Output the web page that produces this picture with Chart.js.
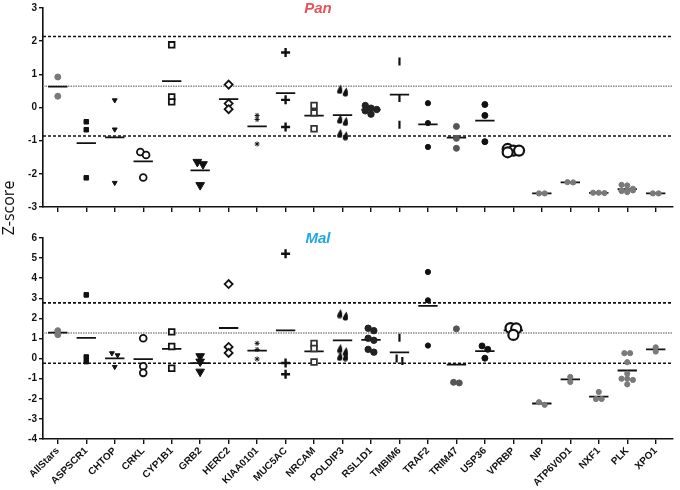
<!DOCTYPE html>
<html>
<head>
<meta charset="utf-8">
<script src="https://cdn.jsdelivr.net/npm/chart.js@4.4.1/dist/chart.umd.min.js"></script>
<style>
  body { margin: 0; background: #fff; }
  #wrap { position: relative; width: 680px; height: 490px; overflow: hidden; }
  canvas { position: absolute; left: 0; }
  #ylab { position: absolute; left: -22px; top: 197px; width: 60px; text-align: center;
          font: 16px "Open Sans", sans-serif; transform: rotate(-90deg); color: #111; }
</style>
</head>
<body>
<div id="wrap">
  <canvas id="pan" width="680" height="222" style="top:0"></canvas>
  <canvas id="mal" width="680" height="275" style="top:215px"></canvas>
  <div id="ylab">Z-score</div>
</div>
<script>
// categories along the x axis
const categories = ['AllStars', 'ASPSCR1', 'CHTOP', 'CRKL', 'CYP1B1', 'GRB2', 'HERC2', 'KIAA0101', 'MUC5AC', 'NRCAM',
  'POLDIP3', 'RSL1D1', 'TMBIM6', 'TRAF2', 'TRIM47', 'USP36', 'VPRBP', 'NP', 'ATP6V0D1', 'NXF1', 'PLK', 'XPO1'];

// Z-scores, Pan screen
const panValues = [
  [0.92, 0.34],
  [-0.43, -0.67, -2.12],
  [0.22, -0.66, -2.27],
  [-1.34, -1.43, -2.11],
  [1.89, 0.32, 0.17],
  [-1.64, -1.71, -2.34],
  [0.69, 0.12, -0.05],
  [-0.24, -0.36, -1.10],
  [1.66, 0.23, -0.59],
  [0.06, -0.16, -0.64],
  [0.55, 0.47, -0.35, -0.42, -0.78, -0.85],
  [0.06, -0.02, -0.20, -0.06, -0.10],
  [1.39, 0.29, -0.52],
  [0.13, -0.47, -1.19],
  [-0.57, -0.93, -1.23],
  [0.09, -0.24, -1.03],
  [-1.25, -1.30, -1.35, -1.30],
  [-2.59, -2.59],
  [-2.26, -2.25],
  [-2.57, -2.57, -2.58],
  [-2.33, -2.35, -2.45, -2.50, -2.50, -2.52, -2.55, -2.50],
  [-2.59, -2.59]
];
const panRefs = [2.14, 0.64, -0.86];

// Z-scores, Mal screen
const malValues = [
  [1.19, 1.39],
  [3.17, -0.15, 0.08],
  [0.27, 0.17, -0.41],
  [1.01, -0.38, -0.71],
  [1.33, 0.60, -0.48],
  [0.12, -0.15, -0.65],
  [3.71, 0.58, 0.28],
  [0.76, 0.45, -0.02],
  [5.22, -0.22, -0.78],
  [0.75, 0.50, -0.17],
  [2.24, 2.12, 0.50, 0.35, 0.12, 0.10],
  [1.51, 1.39, 1.01, 0.91, 0.46, 0.32],
  [1.04, -0.12, 0.00],
  [4.31, 2.90, 0.65],
  [1.48, -1.21, -1.18],
  [0.63, 0.46, 0.02],
  [1.52, 1.50, 1.18],
  [-2.30, -2.17],
  [-0.91, -1.16],
  [-1.66, -2.01, -2.01],
  [0.27, 0.27, -0.18, -0.75, -1.06, -1.00, -1.00, -1.28],
  [0.56, 0.35]
];
const malRefs = [2.77, 1.27, -0.23];

// little teardrop marker, used for POLDIP3
function dropMarker() {
  const c = document.createElement('canvas');
  c.width = 7; c.height = 10;
  const g = c.getContext('2d');
  g.fillStyle = '#111';
  g.beginPath();
  g.moveTo(4.5, 0.5);
  g.quadraticCurveTo(6.5, 5, 6, 7);
  g.arc(3.5, 7, 2.6, 0, Math.PI);
  g.quadraticCurveTo(2, 4, 4.5, 0.5);
  g.fill();
  return c;
}
const drop = dropMarker();

const GREY = '#7a7a7a';
const markers = [
  { s: 'circle', r: 3, fill: GREY, stroke: GREY },
  { s: 'rect', r: 3.2, fill: '#111', stroke: '#111' },
  { s: 'triangle', r: 2.8, fill: '#111', stroke: '#111', rot: 180 },
  { s: 'circle', r: 3.4, fill: '#fff', stroke: '#111', bw: 1.8 },
  { s: 'rect', r: 4, fill: '#fff', stroke: '#111', bw: 1.8 },
  { s: 'triangle', r: 5, fill: '#111', stroke: '#111', rot: 180 },
  { s: 'rectRot', r: 4, fill: '#fff', stroke: '#111', bw: 1.8 },
  { s: 'star', r: 2.5, fill: '#111', stroke: '#111', bw: 1 },
  { s: 'cross', r: 4.5, fill: '#111', stroke: '#111', bw: 2.4 },
  { s: 'rect', r: 4, fill: '#fff', stroke: '#333', bw: 1.8 },
  { s: drop, r: 4, fill: '#111', stroke: '#111' },
  { s: 'circle', r: 3.2, fill: '#222', stroke: '#222' },
  { s: 'line', r: 4, fill: '#111', stroke: '#111', bw: 2.2, rot: 90 },
  { s: 'circle', r: 2.6, fill: '#111', stroke: '#111' },
  { s: 'circle', r: 3, fill: '#555', stroke: '#555' },
  { s: 'circle', r: 3, fill: '#111', stroke: '#111' },
  { s: 'circle', r: 5, fill: '#fff', stroke: '#111', bw: 2.2 },
  { s: 'circle', r: 2.6, fill: GREY, stroke: GREY },
  { s: 'circle', r: 2.6, fill: GREY, stroke: GREY },
  { s: 'circle', r: 2.6, fill: GREY, stroke: GREY },
  { s: 'circle', r: 2.6, fill: GREY, stroke: GREY },
  { s: 'circle', r: 2.6, fill: GREY, stroke: GREY }
];

// spread points sideways when they would overlap (simple beeswarm, at most 3 columns)
function swarm(vals, idx, pxPerUnit) {
  const sorted = vals.slice().sort((a, b) => b - a);
  const out = [];
  const dx = 0.2;
  let group = [sorted[0]];
  const flush = () => {
    const n = group.length;
    group.forEach((v, k) => {
      const off = n <= 3 ? (k - (n - 1) / 2) : ((k % 3) - 1);
      out.push({ x: idx + off * dx, y: v });
    });
  };
  for (let i = 1; i < sorted.length; i++) {
    if ((group[group.length - 1] - sorted[i]) * pxPerUnit < 3.5) group.push(sorted[i]);
    else { flush(); group = [sorted[i]]; }
  }
  flush();
  return out;
}

const XMIN = -0.52, XMAX = 21.6;

function buildDatasets(values, refs, pxPerUnit) {
  const sets = [];
  refs.forEach((r, k) => {
    const mid = k === 1;
    sets.push({
      type: 'line', data: [{ x: XMIN, y: r }, { x: XMAX, y: r }],
      borderColor: mid ? '#8a8a8a' : '#111', borderWidth: mid ? 1.6 : 1.6,
      borderDash: mid ? [1.5, 1] : [3, 2], pointRadius: 0, order: 3
    });
  });
  const meanLine = [];
  values.forEach((vals, i) => {
    const m = vals.reduce((a, b) => a + b, 0) / vals.length;
    meanLine.push({ x: i - 0.34, y: m }, { x: i + 0.34, y: m }, { x: i + 0.5, y: null });
  });
  sets.push({ type: 'line', data: meanLine, borderColor: '#111', borderWidth: 1.8,
    pointRadius: 0, spanGaps: false, order: 2 });
  values.forEach((vals, i) => {
    const mk = markers[i];
    sets.push({
      type: 'scatter', data: swarm(vals, i, pxPerUnit),
      pointStyle: mk.s, pointRadius: mk.r, pointRotation: mk.rot || 0,
      backgroundColor: mk.fill, borderColor: mk.stroke, borderWidth: mk.bw || 1, order: 1
    });
  });
  return sets;
}

function titlePlugin(text, color, y) {
  return {
    id: 'panelTitle',
    afterDraw(chart) {
      const c = chart.ctx;
      c.save();
      c.font = 'italic bold 15px "Liberation Sans", Arial, sans-serif';
      c.fillStyle = color;
      c.textAlign = 'center';
      c.textBaseline = 'middle';
      c.fillText(text, 318, y);
      c.restore();
    }
  };
}

function makeChart(id, values, refs, ymin, ymax, opts) {
  const canvas = document.getElementById(id);
  const plotH = opts.bottom - opts.top;
  const pxPerUnit = plotH / (ymax - ymin);
  return new Chart(canvas, {
    data: { datasets: buildDatasets(values, refs, pxPerUnit) },
    options: {
      responsive: false,
      animation: false,
      layout: { padding: { top: opts.top, right: 2, left: 0, bottom: 0 } },
      plugins: { legend: { display: false }, tooltip: { enabled: false } },
      scales: {
        x: {
          type: 'linear', min: XMIN, max: XMAX,
          afterBuildTicks: (s) => { s.ticks = categories.map((c, i) => ({ value: i })); },
          afterFit: (s) => { s.height = canvas.height - opts.bottom; },
          border: { color: '#111', width: 1.6 },
          grid: { drawOnChartArea: false, color: '#111', lineWidth: 1.4, tickLength: 5 },
          ticks: {
            display: opts.labels, autoSkip: false, minRotation: 45, maxRotation: 45,
            color: '#111', padding: 1,
            font: { family: '"Liberation Sans", Arial, sans-serif', size: 10, weight: 'bold' },
            callback: (v) => categories[v]
          }
        },
        y: {
          min: ymin, max: ymax,
          afterFit: (s) => { s.width = 43; },
          border: { color: '#111', width: 1.6 },
          grid: { drawOnChartArea: false, color: '#111', lineWidth: 1.4, tickLength: 4 },
          ticks: {
            stepSize: 1, color: '#111', padding: 2,
            font: { family: '"Liberation Sans", Arial, sans-serif', size: 10, weight: 'bold' }
          }
        }
      }
    },
    plugins: [titlePlugin(opts.title, opts.color, opts.titleY)]
  });
}

makeChart('pan', panValues, panRefs, -3, 3,
  { top: 5, bottom: 207, labels: false, title: 'Pan', color: '#e4545b', titleY: 9 });
makeChart('mal', malValues, malRefs, -4, 6,
  { top: 23, bottom: 224, labels: true, title: 'Mal', color: '#22a8e0', titleY: 24 });
</script>
</body>
</html>
